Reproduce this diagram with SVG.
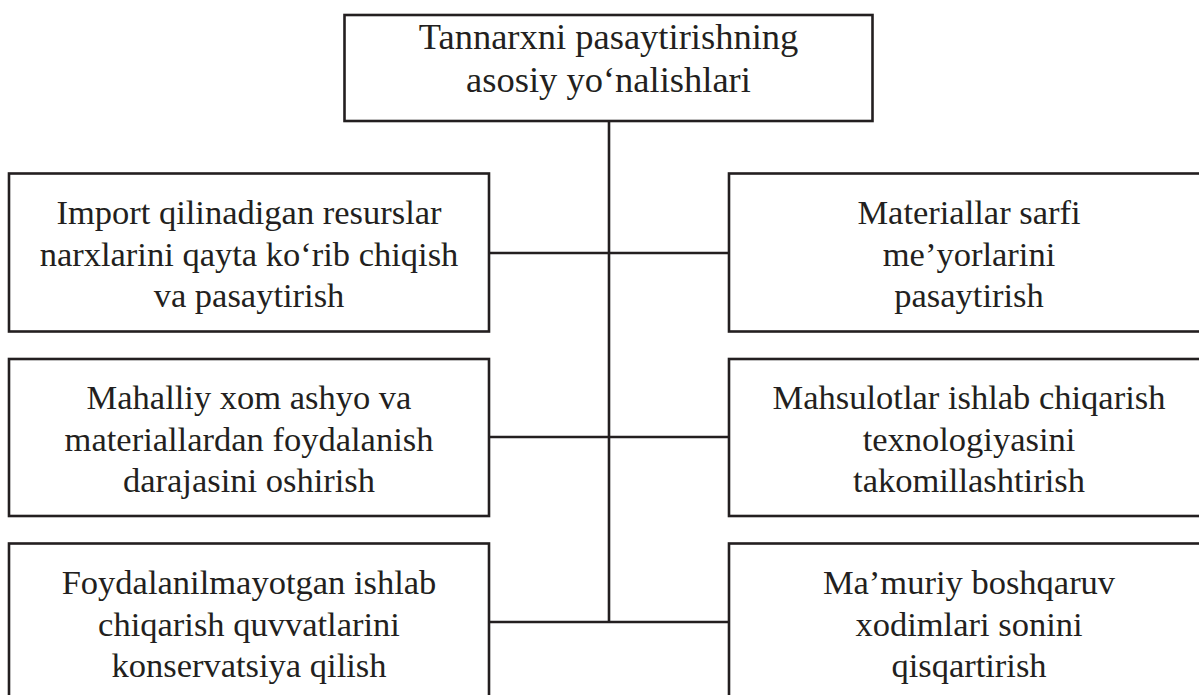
<svg xmlns="http://www.w3.org/2000/svg" width="1199" height="695" viewBox="0 0 1199 695">
<style>
.box{fill:#fff;stroke:#231f20;stroke-width:2.6}
.con{fill:none;stroke:#231f20;stroke-width:2.6}
text{font-family:"Liberation Serif","Times New Roman",serif;font-size:34.5px;fill:#231f20;text-anchor:middle}
.big{font-size:36.5px}
</style>
<rect width="1199" height="695" fill="#fff"/>
<g id="connectors">
<line class="con" x1="609" y1="121" x2="609" y2="623"/>
<line class="con" x1="489" y1="253" x2="729" y2="253"/>
<line class="con" x1="489" y1="437" x2="729" y2="437"/>
<line class="con" x1="489" y1="622" x2="729" y2="622"/>
</g>
<g id="root">
<rect class="box" x="344.5" y="15" width="528" height="106"/>
<text class="big" x="608.5" y="49">Tannarxni pasaytirishning</text>
<text class="big" x="608.5" y="92">asosiy yo‘nalishlari</text>
</g>
<g id="left1">
<rect class="box" x="9" y="173.5" width="480" height="158"/>
<text x="249" y="224">Import qilinadigan resurslar</text>
<text x="249" y="266">narxlarini qayta ko‘rib chiqish</text>
<text x="249" y="307">va pasaytirish</text>
</g>
<g id="left2">
<rect class="box" x="9" y="359" width="480" height="157"/>
<text x="249" y="409">Mahalliy xom ashyo va</text>
<text x="249" y="451">materiallardan foydalanish</text>
<text x="249" y="492">darajasini oshirish</text>
</g>
<g id="left3">
<rect class="box" x="9" y="543.5" width="480" height="158"/>
<text x="249" y="594">Foydalanilmayotgan ishlab</text>
<text x="249" y="636">chiqarish quvvatlarini</text>
<text x="249" y="677">konservatsiya qilish</text>
</g>
<g id="right1">
<rect class="box" x="729" y="173.5" width="480" height="158"/>
<text x="969" y="224">Materiallar sarfi</text>
<text x="969" y="266">me’yorlarini</text>
<text x="969" y="307">pasaytirish</text>
</g>
<g id="right2">
<rect class="box" x="729" y="359" width="480" height="157"/>
<text x="969" y="409">Mahsulotlar ishlab chiqarish</text>
<text x="969" y="451">texnologiyasini</text>
<text x="969" y="492">takomillashtirish</text>
</g>
<g id="right3">
<rect class="box" x="729" y="543.5" width="480" height="158"/>
<text x="969" y="594">Ma’muriy boshqaruv</text>
<text x="969" y="636">xodimlari sonini</text>
<text x="969" y="677">qisqartirish</text>
</g>
</svg>
